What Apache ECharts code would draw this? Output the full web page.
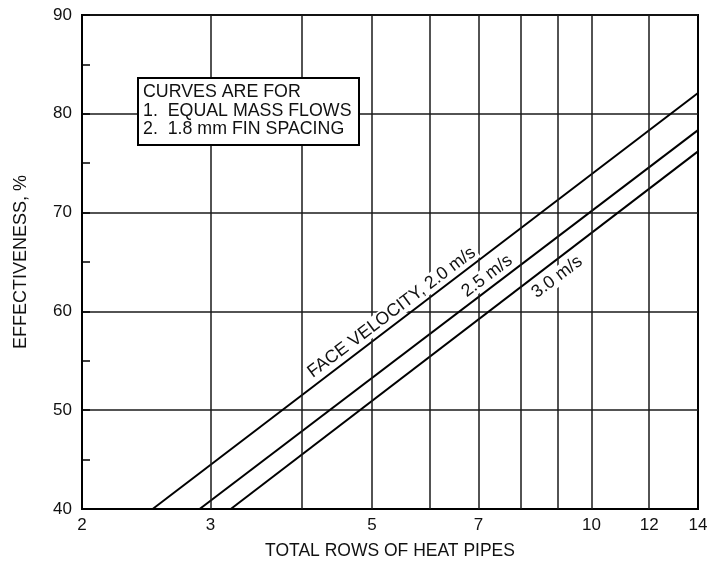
<!DOCTYPE html>
<html><head><meta charset="utf-8">
<script src="https://cdn.jsdelivr.net/npm/echarts@6/dist/echarts.min.js"></script>
<style>html,body{margin:0;padding:0;background:#fff}#c{width:708px;height:561px}</style>
</head><body><div id="c"></div>
<script>
// ---- data ----
const xTickLabels = [2, 3, 5, 7, 10, 12, 14];
const xGridValues = [3, 4, 5, 6, 7, 8, 9, 10, 12];
const xAllMarks = [2, 3, 4, 5, 6, 7, 8, 9, 10, 12, 14];
const yMin = 40, yMax = 90, yStep = 10, yMinorStep = 5;
const xMin = 2, xMax = 14;
const curveNames = ['2.0 m/s', '2.5 m/s', '3.0 m/s'];
const v20 = [[2.5, 40], [14, 82.1]];
const v25 = [[2.9, 40], [14, 78.35]];
const v30 = [[3.2, 40], [14, 76.2]];
const curveLabels = ['FACE VELOCITY, 2.0 m/s', '2.5 m/s', '3.0 m/s'];
const noteLines = ['CURVES ARE FOR', '1.  EQUAL MASS FLOWS', '2.  1.8 mm FIN SPACING'];
const xTitle = 'TOTAL ROWS OF HEAT PIPES';
const yTitle = 'EFFECTIVENESS, %';

// ---- chart ----
const FONT = 'Liberation Sans, Arial, sans-serif';
const INK = '#000';
const chart = echarts.init(document.getElementById('c'), null, {renderer: 'canvas'});

const gridMarks = xAllMarks.map(v => {
  const showLine = xGridValues.indexOf(v) >= 0;
  const showLabel = xTickLabels.indexOf(v) >= 0;
  return [
    {coord: [v, yMin], name: showLabel ? String(v) : '',
     lineStyle: showLine ? {} : {color: 'rgba(0,0,0,0)', width: 0},
     label: {show: showLabel}},
    {coord: [v, yMax]}
  ];
});

const labelPos = [[5.32, 59.9], [7.19, 63.57], [8.97, 63.47]];
const plotLeft = 82, plotRight = 10, plotTop = 15, plotBottom = 52;
const plotWidth = 708 - plotLeft - plotRight;

function curve(name, data) {
  return {
    name: name, type: 'line', data: data, z: 2,
    symbol: 'none', silent: true, animation: false,
    lineStyle: {color: INK, width: 2}
  };
}

chart.setOption({
  animation: false,
  backgroundColor: '#fff',
  grid: {left: plotLeft, right: plotRight, top: plotTop, bottom: plotBottom, show: true,
         outerBoundsMode: 'none', containLabel: false,
         borderColor: INK, borderWidth: 2, backgroundColor: 'transparent'},
  xAxis: {
    type: 'log', logBase: 10, min: xMin, max: xMax,
    name: xTitle, nameLocation: 'middle', nameGap: 33,
    nameTextStyle: {fontFamily: FONT, fontSize: 17.5, color: '#111'},
    axisLine: {show: true, lineStyle: {color: INK, width: 2}},
    axisTick: {show: false},
    axisLabel: {show: false},
    splitLine: {show: false},
    minorTick: {show: false}, minorSplitLine: {show: false}
  },
  yAxis: [{
    type: 'value', min: yMin, max: yMax, interval: yStep,
    name: yTitle, nameLocation: 'middle', nameGap: 52,
    nameTextStyle: {fontFamily: FONT, fontSize: 18, color: '#111'},
    axisLine: {show: true, lineStyle: {color: INK, width: 2}},
    axisTick: {show: false},
    axisLabel: {fontFamily: FONT, fontSize: 17, color: '#111', margin: 10},
    splitLine: {show: true, lineStyle: {color: '#1a1a1a', width: 1.5}}
  }, {
    // minor ticks drawn on the inner side of the left frame
    type: 'value', min: yMin, max: yMax, interval: yMinorStep,
    position: 'right', offset: -plotWidth,
    axisLine: {show: false},
    axisTick: {show: true, inside: false, length: 8, lineStyle: {color: INK, width: 1.5}},
    axisLabel: {show: false},
    splitLine: {show: false}
  }],
  graphic: {elements: [
    {type: 'rect', z: 100, shape: {x: 138, y: 78, width: 221, height: 67},
     style: {fill: '#fff', stroke: INK, lineWidth: 2}},
    {type: 'text', z: 101, x: 143, y: 83,
     style: {text: noteLines.join('\n'), font: '17.8px ' + FONT, lineHeight: 18.5, fill: '#111'}}
  ]},
  series: [
    {
      name: 'grid', type: 'line', data: [], z: 1, silent: true,
      markLine: {
        silent: true, animation: false, symbol: ['none', 'none'],
        lineStyle: {color: '#1a1a1a', width: 1.5, type: 'solid'},
        label: {show: true, position: 'start', distance: 8, formatter: '{b}',
                fontFamily: FONT, fontSize: 17, color: '#111'},
        data: gridMarks
      }
    },
    curve(curveNames[0], v20),
    curve(curveNames[1], v25),
    curve(curveNames[2], v30),
    {
      name: 'labels', type: 'line', data: [], z: 5, silent: true,
      markPoint: {
        silent: true, animation: false, symbol: 'circle', symbolSize: 0,
        label: {show: true, position: 'inside', rotate: 37, formatter: '{b}',
                fontFamily: FONT, fontSize: 17.8, color: '#111',
                backgroundColor: '#fff', padding: [0, 2]},
        data: curveLabels.map((t, i) => ({name: t, coord: labelPos[i]}))
      }
    }
  ]
});
</script></body></html>
